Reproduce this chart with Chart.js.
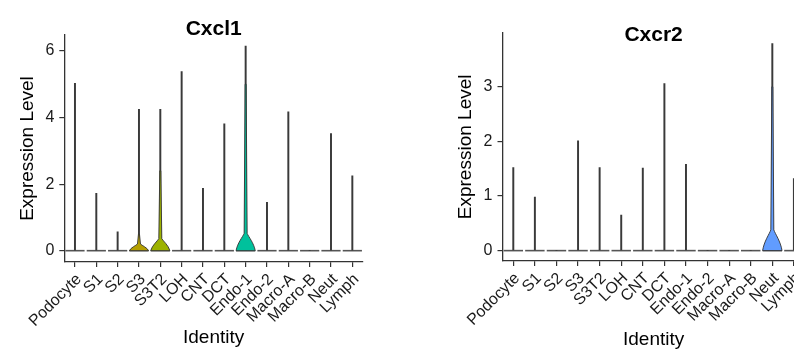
<!DOCTYPE html>
<html>
<head>
<meta charset="utf-8">
<script src="https://cdn.jsdelivr.net/npm/chart.js@4.4.1/dist/chart.umd.min.js"></script>
<style>
  html, body { margin: 0; padding: 0; background: #fff; width: 794px; height: 349px; overflow: hidden; }
  .panel { position: absolute; top: 0; }
</style>
</head>
<body>
<div class="panel" style="left:0"><canvas id="cxcl1Chart" width="400" height="349"></canvas></div>
<div class="panel" style="left:420px"><canvas id="cxcr2Chart" width="420" height="349"></canvas></div>
<script>
// cell identities (x axis)
var identities = ['Podocyte', 'S1', 'S2', 'S3', 'S3T2', 'LOH', 'CNT', 'DCT', 'Endo-1', 'Endo-2', 'Macro-A', 'Macro-B', 'Neut', 'Lymph'];

// Cxcl1: highest expression per identity, top of the violin bulge, top of the thickened tail
var cxcl1Max   = [5.03, 1.72, 0.57, 4.25, 4.25, 5.38, 1.87, 3.81, 6.15, 1.45, 4.17, 0, 3.52, 2.25];
var cxcl1Bulge = [0, 0, 0, 0.2, 0.36, 0, 0, 0, 0.52, 0, 0, 0, 0, 0];
var cxcl1Tail  = [0, 0, 0, 0.5, 2.4, 0, 0, 0, 5.0, 0, 0, 0, 0, 0];
var cxcl1Ticks = [0, 2, 4, 6];

// Cxcr2
var cxcr2Max   = [1.52, 0.98, 0, 2.01, 1.52, 0.65, 1.51, 3.06, 1.58, 0, 0, 0, 3.79, 1.32];
var cxcr2Bulge = [0, 0, 0, 0, 0, 0, 0, 0, 0, 0, 0, 0, 0.38, 0];
var cxcr2Tail  = [0, 0, 0, 0, 0, 0, 0, 0, 0, 0, 0, 0, 3.0, 0];
var cxcr2Ticks = [0, 1, 2, 3];

var violinColors = ['#F8766D', '#E38900', '#C49A00', '#B5A000', '#9DB200', '#53B400', '#00BC56', '#00C094',
                    '#00C19C', '#00B6EB', '#06A4FF', '#A58AFF', '#619CFF', '#FB61D7'];

Chart.defaults.font.family = "'Liberation Sans', Arial, Helvetica, sans-serif";

// draws the violin bodies through the chart scales
function makeViolins(bulge, tail) {
    return {
        id: 'violins',
        beforeDatasetsDraw: function (chart) {
            var xs = chart.scales.x, ys = chart.scales.y, ctx = chart.ctx;
            var hw = xs.width / chart.data.labels.length * 0.45;
            var y0 = ys.getPixelForValue(0);
            ctx.save();
            ctx.strokeStyle = '#555';
            ctx.lineWidth = 1.6;
            chart.data.labels.forEach(function (l, i) {
                var cx = xs.getPixelForValue(i);
                ctx.beginPath();
                ctx.moveTo(cx - hw, y0);
                ctx.lineTo(cx + hw, y0);
                ctx.stroke();
            });
            ctx.restore();
        },
        afterDatasetsDraw: function (chart) {
            var xs = chart.scales.x, ys = chart.scales.y, ctx = chart.ctx;
            var hw = xs.width / chart.data.labels.length * 0.45;
            var y0 = ys.getPixelForValue(0);
            ctx.save();
            bulge.forEach(function (b, i) {
                if (!b) return;
                var cx = xs.getPixelForValue(i);
                var top = ys.getPixelForValue(b);
                var tt = ys.getPixelForValue(tail[i]);
                var h = y0 - top;
                ctx.beginPath();
                ctx.moveTo(cx - hw, y0);
                ctx.bezierCurveTo(cx - hw * 0.85, y0 - h * 0.45, cx - hw * 0.3, top + h * 0.2, cx - 1.5, top);
                ctx.lineTo(cx - 0.5, tt);
                ctx.lineTo(cx + 0.5, tt);
                ctx.lineTo(cx + 1.5, top);
                ctx.bezierCurveTo(cx + hw * 0.3, top + h * 0.2, cx + hw * 0.85, y0 - h * 0.45, cx + hw, y0);
                ctx.closePath();
                ctx.fillStyle = violinColors[i];
                ctx.fill();
                ctx.strokeStyle = '#333';
                ctx.lineWidth = 0.9;
                ctx.stroke();
            });
            ctx.restore();
        }
    };
}

function makeChart(id, gene, maxValues, bulge, tail, ticks, set) {
    var ctx = document.getElementById(id).getContext('2d');
    return new Chart(ctx, {
        type: 'bar',
        data: {
            labels: identities,
            datasets: [{
                label: gene,
                data: maxValues.map(function (v) { return [0, v]; }),
                backgroundColor: '#3a3a3a',
                borderWidth: 0,
                barThickness: 1.3
            }]
        },
        options: {
            responsive: false,
            animation: false,
            devicePixelRatio: 1,
            layout: { padding: { left: 0, right: set.padRight, top: 0, bottom: 0 } },
            plugins: {
                legend: { display: false },
                tooltip: { enabled: false },
                title: {
                    display: true,
                    text: gene,
                    color: '#000',
                    fullSize: false,
                    font: { size: 21, weight: 'bold' },
                    padding: { top: set.titleTop, bottom: set.titleBottom }
                }
            },
            scales: {
                x: {
                    offset: true,
                    grid: { display: true, offset: false, drawOnChartArea: false, drawTicks: true, tickLength: 5, color: '#333', lineWidth: 1.2 },
                    border: { display: true, color: '#333', width: 1.3 },
                    ticks: { autoSkip: false, minRotation: 45, maxRotation: 45, padding: 3, labelOffset: 4, color: '#1a1a1a', font: { size: 16 } },
                    title: { display: true, text: 'Identity', color: '#000', font: { size: 19 }, padding: { top: 0, bottom: set.xTitleBottom } },
                    afterFit: function (scale) { scale.height = set.xHeight; }
                },
                y: {
                    min: set.yMin,
                    max: set.yMax,
                    grid: { display: true, drawOnChartArea: false, drawTicks: true, tickLength: 5, color: '#333', lineWidth: 1.2 },
                    border: { display: true, color: '#333', width: 1.3 },
                    ticks: { padding: 5, color: '#1a1a1a', font: { size: 16 } },
                    title: { display: true, text: 'Expression Level', color: '#000', font: { size: 19 }, padding: { top: set.yTitleLeft, bottom: 0 } },
                    afterBuildTicks: function (scale) { scale.ticks = ticks.map(function (v) { return { value: v }; }); },
                    afterFit: function (scale) { scale.width = set.yWidth; }
                }
            }
        },
        plugins: [makeViolins(bulge, tail)]
    });
}

// Cxcl1 panel
var cxcl1Chart = makeChart('cxcl1Chart', 'Cxcl1', cxcl1Max, cxcl1Bulge, cxcl1Tail, cxcl1Ticks, {
    yMin: -0.34, yMax: 6.48, padRight: 37, yWidth: 64.3, xHeight: 87,
    titleTop: 17, titleBottom: -7.2, yTitleLeft: 16.5, xTitleBottom: 0
});

// Cxcr2 panel (runs off the right edge like the original)
var cxcr2Chart = makeChart('cxcr2Chart', 'Cxcr2', cxcr2Max, cxcr2Bulge, cxcr2Tail, cxcr2Ticks, {
    yMin: -0.19, yMax: 3.99, padRight: 35.3, yWidth: 82.5, xHeight: 88,
    titleTop: 23, titleBottom: -15.5, yTitleLeft: 34.5, xTitleBottom: -2
});
</script>
</body>
</html>
